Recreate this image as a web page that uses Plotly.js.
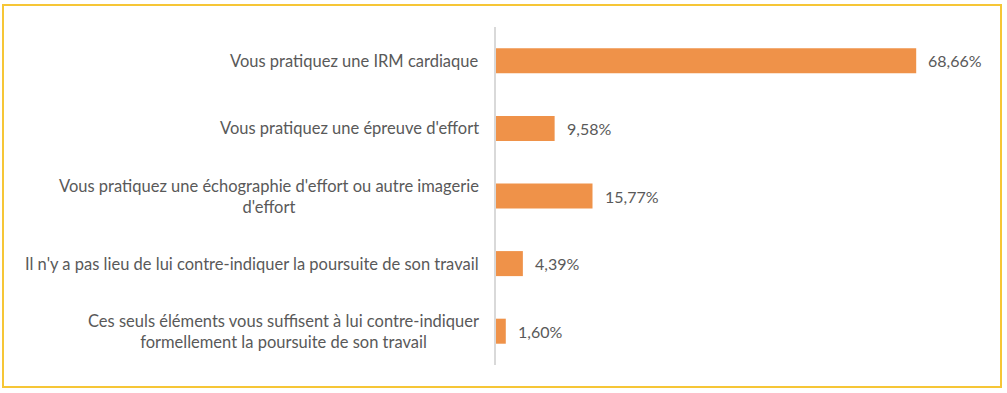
<!DOCTYPE html>
<html>
<head>
<meta charset="utf-8">
<script src="https://cdn.plot.ly/plotly-3.0.1.min.js"></script>
<style>
html,body{margin:0;padding:0;background:#fff;}
#wrap{position:relative;width:1007px;height:393px;}
#chart{width:1007px;height:393px;}
#frame{position:absolute;left:2px;top:4px;width:996px;height:380px;border:2px solid #F6C636;pointer-events:none;}
</style>
</head>
<body>
<div id="wrap"><div id="chart"></div><div id="frame"></div></div>
<script>
const categories = [
  "Vous pratiquez une IRM cardiaque",
  "Vous pratiquez une épreuve d'effort",
  "Vous pratiquez une échographie d'effort ou autre imagerie<br>d'effort",
  "Il n'y a pas lieu de lui contre-indiquer la poursuite de son travail",
  "Ces seuls éléments vous suffisent à lui contre-indiquer<br>formellement la poursuite de son travail"
];
const values = [68.66, 9.58, 15.77, 4.39, 1.60];
const valueLabels = values.map(v => v.toFixed(2).replace('.', ',') + '%');

const FONT = 'Lato, "Liberation Sans", sans-serif';
const TXT = '#595959';

const trace = {
  type: 'bar',
  orientation: 'h',
  y: categories.map((c, i) => i),
  x: values,
  marker: {color: '#EF9249', line: {width: 0}},
  width: 0.37,
  hoverinfo: 'none'
};

const annotations = [];
categories.forEach((c, i) => {
  annotations.push({
    xref: 'paper', yref: 'y', x: 0, y: i, text: c,
    xanchor: 'right', yanchor: 'middle', align: 'center',
    xshift: -15, showarrow: false,
    font: {family: FONT, size: 16.5, color: TXT}
  });
  annotations.push({
    xref: 'x', yref: 'y', x: values[i], y: i, text: valueLabels[i],
    xanchor: 'left', yanchor: 'middle', xshift: 10, showarrow: false,
    font: {family: FONT, size: 16, color: TXT}
  });
});

const layout = {
  width: 1007, height: 393,
  margin: {l: 496, r: 52, t: 27, b: 28},
  paper_bgcolor: '#ffffff', plot_bgcolor: '#ffffff',
  showlegend: false,
  xaxis: {range: [0, 75], showgrid: false, zeroline: false, showticklabels: false, showline: false, fixedrange: true},
  yaxis: {range: [4.5, -0.5], showgrid: false, zeroline: false, showticklabels: false,
          showline: true, linecolor: '#D9D9D9', linewidth: 2, ticks: '', fixedrange: true},
  annotations: annotations
};

Plotly.newPlot('chart', [trace], layout, {displayModeBar: false, staticPlot: true});
</script>
</body>
</html>
